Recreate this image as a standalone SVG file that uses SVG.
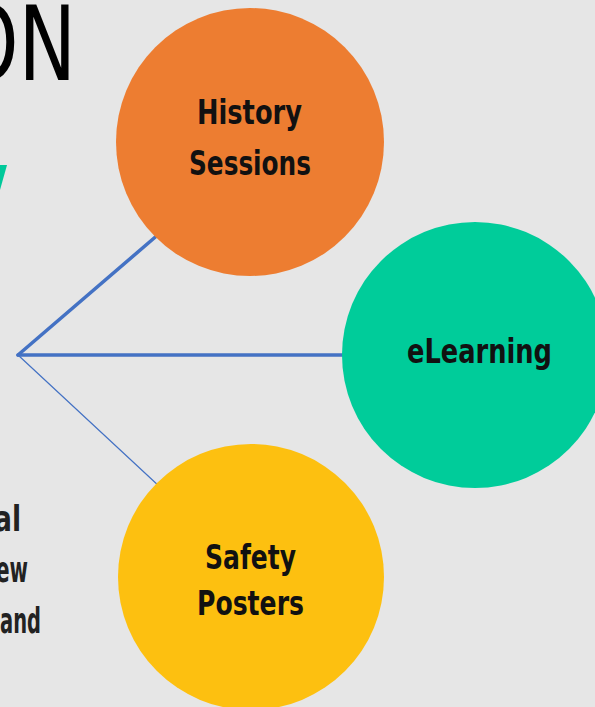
<svg xmlns="http://www.w3.org/2000/svg" width="595" height="707" viewBox="0 0 595 707">
<style>
.lbl{font-family:"DejaVu Sans","Liberation Sans",sans-serif;font-stretch:condensed;font-weight:bold;font-size:33px;fill:#111;text-anchor:start}
.side{font-family:"DejaVu Sans","Liberation Sans",sans-serif;font-stretch:condensed;font-weight:bold;font-size:36px;fill:#222}
.conn{stroke:#4472c4;fill:none;stroke-linecap:round}
</style>
<rect width="595" height="707" fill="#e6e6e6"/>
<g id="title">
<text x="-42" y="80" font-family="DejaVu Sans, Liberation Sans, sans-serif" font-stretch="condensed" font-size="103" fill="#000" textLength="118" lengthAdjust="spacingAndGlyphs">ON</text>
<polygon points="0,165 7,165 0,190" fill="#00c99a"/>
</g>
<g id="sidetext">
<text class="side" x="-6" y="531" textLength="27" lengthAdjust="spacingAndGlyphs">al</text>
<text class="side" x="-4" y="582" textLength="32" lengthAdjust="spacingAndGlyphs">ew</text>
<text class="side" x="0" y="633" textLength="41" lengthAdjust="spacingAndGlyphs">and</text>
</g>
<g id="connectors">
<line class="conn" x1="18" y1="355" x2="160" y2="233" stroke-width="3.5"/>
<line class="conn" x1="18" y1="355" x2="345" y2="355" stroke-width="3.5"/>
<line class="conn" x1="18" y1="355" x2="160" y2="487" stroke-width="1.2"/>
</g>
<g id="history">
<circle cx="250" cy="142" r="134" fill="#ed7d31"/>
<text class="lbl" x="197" y="124" textLength="105" lengthAdjust="spacingAndGlyphs">History</text>
<text class="lbl" x="189" y="175" textLength="122" lengthAdjust="spacingAndGlyphs">Sessions</text>
</g>
<g id="elearning">
<circle cx="475" cy="355" r="133" fill="#00cc9a"/>
<text class="lbl" x="407" y="363" textLength="145" lengthAdjust="spacingAndGlyphs">eLearning</text>
</g>
<g id="safety">
<circle cx="251" cy="577" r="133" fill="#fdc010"/>
<text class="lbl" x="205" y="569" textLength="91" lengthAdjust="spacingAndGlyphs">Safety</text>
<text class="lbl" x="197" y="615" textLength="107" lengthAdjust="spacingAndGlyphs">Posters</text>
</g>
</svg>
